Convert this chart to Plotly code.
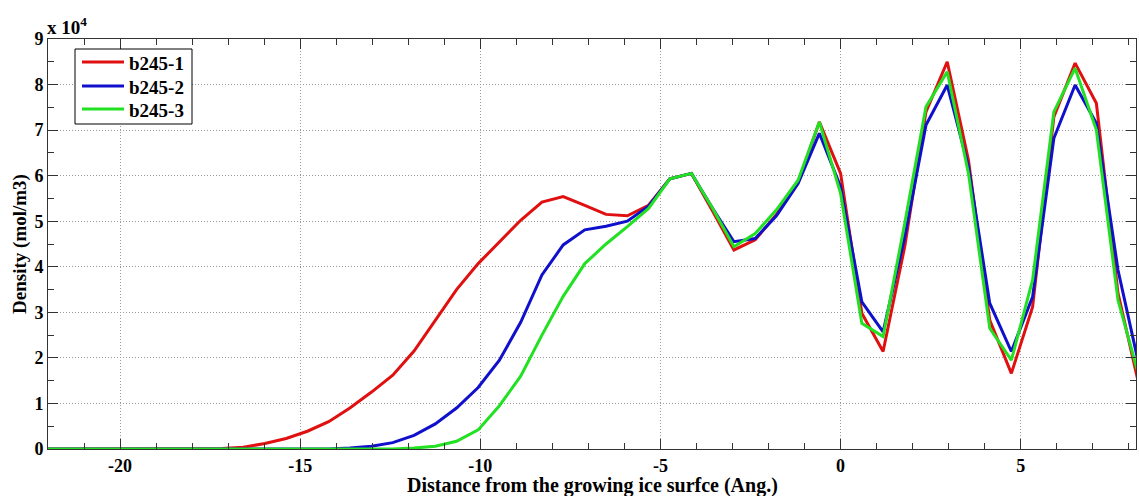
import plotly.graph_objects as go

# Distance from the ice surface (Ang.), bin centres
distance = [-22.49, -21.90, -21.31, -20.72, -20.13, -19.54, -18.94, -18.35, -17.76,
            -17.17, -16.58, -15.98, -15.39, -14.80, -14.21, -13.62, -13.02, -12.43,
            -11.84, -11.25, -10.66, -10.06, -9.47, -8.88, -8.29, -7.70, -7.10, -6.51,
            -5.92, -5.33, -4.74, -4.14, -3.55, -2.96, -2.37, -1.78, -1.18, -0.59,
            0.00, 0.59, 1.18, 1.78, 2.37, 2.96, 3.55, 4.14, 4.74, 5.33, 5.92, 6.51,
            7.10, 7.70, 8.29]

# Density in units of 1e4 mol/m3
b245_1 = [0.00, 0.00, 0.00, 0.00, 0.00, 0.00, 0.00, 0.00, 0.00,
          0.01, 0.04, 0.12, 0.23, 0.39, 0.60, 0.90, 1.25, 1.62,
          2.15, 2.82, 3.50, 4.07, 4.55, 5.02, 5.42, 5.54, 5.35, 5.15,
          5.12, 5.35, 5.93, 6.05, 5.22, 4.37, 4.59, 5.15, 5.85, 7.18,
          6.05, 2.98, 2.14, 4.44, 7.40, 8.50, 6.34, 2.83, 1.66, 3.12, 7.29, 8.47,
          7.59, 3.42, 1.38]
b245_2 = [0.00, 0.00, 0.00, 0.00, 0.00, 0.00, 0.00, 0.00, 0.00,
          0.00, 0.00, 0.00, 0.00, 0.00, 0.00, 0.02, 0.06, 0.14,
          0.30, 0.55, 0.90, 1.35, 1.95, 2.78, 3.82, 4.48, 4.81, 4.89,
          5.00, 5.33, 5.93, 6.05, 5.28, 4.55, 4.62, 5.12, 5.83, 6.93,
          5.76, 3.23, 2.57, 4.65, 7.11, 7.99, 6.20, 3.20, 2.14, 3.34, 6.82, 7.99,
          7.15, 3.93, 1.81]
b245_3 = [0.00, 0.00, 0.00, 0.00, 0.00, 0.00, 0.00, 0.00, 0.00,
          0.00, 0.00, 0.00, 0.00, 0.00, 0.00, 0.00, 0.00, 0.00,
          0.02, 0.06, 0.17, 0.42, 0.95, 1.60, 2.50, 3.35, 4.07, 4.50,
          4.88, 5.28, 5.93, 6.05, 5.28, 4.44, 4.73, 5.25, 5.90, 7.18,
          5.61, 2.76, 2.47, 4.95, 7.51, 8.28, 6.05, 2.65, 1.95, 3.71, 7.40, 8.36,
          7.00, 3.27, 1.58]

series = [("b245-1", b245_1, "#e01010"),
          ("b245-2", b245_2, "#1010cc"),
          ("b245-3", b245_3, "#22e022")]

x_ticks = [-20, -15, -10, -5, 0, 5]
y_ticks = [0, 1, 2, 3, 4, 5, 6, 7, 8, 9]

FONT = "Liberation Serif"
W, H = 1139, 496
ML, MR, MT, MB = 48, 3, 39, 47
PW, PH = W - ML - MR, H - MT - MB


def px(x):
    """Pixel column -> paper x."""
    return (x - ML) / PW


def py(y):
    """Pixel row -> paper y."""
    return (H - MB - y) / PH


def bold(size):
    return dict(family=FONT, size=size, color="black", weight="bold")


fig = go.Figure()
for name, vals, color in series:
    fig.add_trace(go.Scatter(x=distance, y=vals, mode="lines", name=name,
                             line=dict(color=color, width=3), showlegend=False))

axis_common = dict(
    showline=True, linecolor="#333333", linewidth=1, mirror="allticks",
    ticks="inside", tickcolor="#333333", ticklen=10,
    showgrid=True, gridcolor="#9a9a9a", griddash="1px,2px", gridwidth=1,
    zeroline=False, tickfont=bold(18),
)

fig.update_xaxes(
    range=[-22, 8.2], tickvals=x_ticks, ticktext=[str(v) for v in x_ticks],
    minor=dict(dtick=1, tick0=0, ticks="inside", ticklen=6, tickcolor="#333333",
               showgrid=False),
    **axis_common)
fig.update_yaxes(
    range=[0, 9], tickvals=y_ticks, ticktext=[str(v) for v in y_ticks],
    minor=dict(dtick=0.5, tick0=0, ticks="inside", ticklen=6, tickcolor="#333333",
               showgrid=False),
    title=dict(text="Density (mol/m3)", font=bold(19), standoff=2),
    **axis_common)

# x-axis title
fig.add_annotation(xref="paper", yref="paper", x=0.5, y=py(485),
                   xanchor="center", yanchor="middle", showarrow=False,
                   text="Distance from the growing ice surfce (Ang.)", font=bold(20))

# exponent label above the y axis
fig.add_annotation(xref="paper", yref="paper", x=px(45), y=py(26),
                   xanchor="left", yanchor="middle", showarrow=False,
                   text="x 10<sup>4</sup>", font=bold(19))

# legend box with line samples and labels
fig.add_shape(type="rect", xref="paper", yref="paper",
              x0=px(75), x1=px(192), y0=py(124), y1=py(49),
              line=dict(color="black", width=1), fillcolor="white", layer="above")
rows = [62, 86, 109]
for (name, _, color), row in zip(series, rows):
    fig.add_shape(type="line", xref="paper", yref="paper",
                  x0=px(82), x1=px(124), y0=py(row), y1=py(row),
                  line=dict(color=color, width=3), layer="above")
    fig.add_annotation(xref="paper", yref="paper", x=px(127), y=py(row + 1),
                       xanchor="left", yanchor="middle", showarrow=False,
                       text=name, font=bold(19))

fig.update_layout(
    width=W, height=H,
    margin=dict(l=ML, r=MR, t=MT, b=MB),
    plot_bgcolor="white", paper_bgcolor="white",
    showlegend=False,
)

fig.write_html("out.html")
